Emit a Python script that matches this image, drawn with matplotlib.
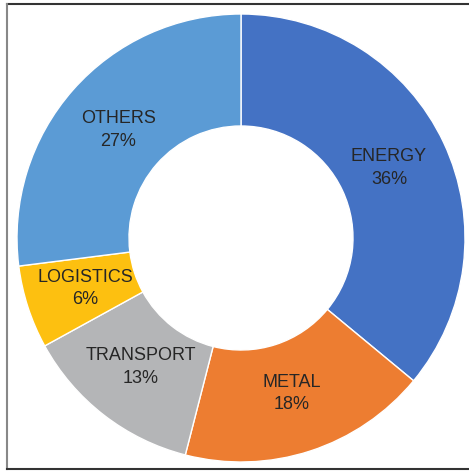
import matplotlib
matplotlib.use("Agg")
import matplotlib.pyplot as plt
from matplotlib.lines import Line2D

# sector shares, clockwise from 12 o'clock
sectors = ["ENERGY", "METAL", "TRANSPORT", "LOGISTICS", "OTHERS"]
shares = [36, 18, 13, 6, 27]
colors = ["#4472C4", "#ED7D31", "#B4B5B7", "#FDC010", "#5B9BD5"]

W, H = 469, 472
cx, cy, R = 241, 238, 224  # pie centre and radius in pixels (from top-left)

fig = plt.figure(figsize=(W / 100, H / 100), dpi=100)
ax = fig.add_axes([(cx - R) / W, (H - cy - R) / H, 2 * R / W, 2 * R / H])

labels = [f"{s}\n{v}%" for s, v in zip(sectors, shares)]
ax.pie(shares, labels=labels, colors=colors, startangle=90, counterclock=False,
       radius=1, labeldistance=0.73,
       wedgeprops=dict(width=0.5, edgecolor="white", linewidth=1.0),
       textprops=dict(ha="center", va="center", fontsize=13,
                      family="Liberation Sans", color="#262626",
                      linespacing=1.45))
ax.set_xlim(-1, 1)
ax.set_ylim(-1, 1)
ax.axis("off")

# frame around the picture (top, left, bottom)
x0, y0, y1 = 6.5 / W, 1 - 3.5 / H, 1 - 469 / H
for xs, ys, c in [([x0, 1], [y0, y0], "#333333"),
                  ([x0, x0], [y0, y1], "#888888"),
                  ([x0, 1], [y1, y1], "#333333")]:
    fig.add_artist(Line2D(xs, ys, transform=fig.transFigure, color=c, lw=1.5))

fig.savefig("out.png", dpi=100)
